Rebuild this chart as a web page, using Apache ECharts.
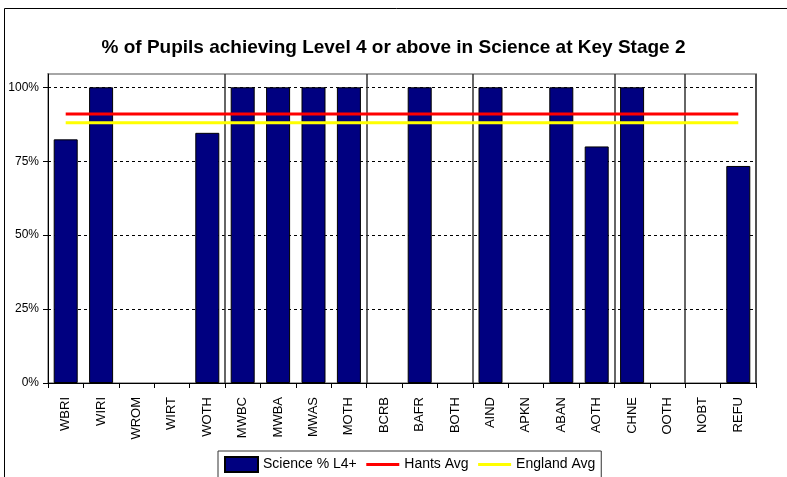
<!DOCTYPE html>
<html>
<head>
<meta charset="utf-8">
<script src="https://cdn.jsdelivr.net/npm/echarts@6/dist/echarts.min.js"></script>
<style>
  html, body { margin: 0; padding: 0; background: #fff; }
  #main { width: 787px; height: 477px; }
</style>
</head>
<body>
<div id="main"></div>
<script>
var categories = ['WBRI', 'WIRI', 'WROM', 'WIRT', 'WOTH', 'MWBC', 'MWBA', 'MWAS', 'MOTH', 'BCRB',
  'BAFR', 'BOTH', 'AIND', 'APKN', 'ABAN', 'AOTH', 'CHNE', 'OOTH', 'NOBT', 'REFU'];
var sciencePct = [82.4, 100, 0, 0, 84.6, 100, 100, 100, 100, 0,
  100, 0, 100, 0, 100, 80, 100, 0, 0, 73.4];
var hantsAvg = [91, 91, 91, 91, 91, 91, 91, 91, 91, 91,
  91, 91, 91, 91, 91, 91, 91, 91, 91, 91];
var englandAvg = [88, 88, 88, 88, 88, 88, 88, 88, 88, 88,
  88, 88, 88, 88, 88, 88, 88, 88, 88, 88];
// category index where a new ethnic group block starts
var groupStarts = [5, 9, 12, 16, 18];

var chartDom = document.getElementById('main');
var myChart = echarts.init(chartDom);
var font = 'Liberation Sans, Arial, sans-serif';

// zero bars have no visible outline in the original
var barData = sciencePct.map(function (v) {
  return v === 0 ? { value: v, itemStyle: { borderWidth: 0 } } : v;
});

var option = {
  animation: false,
  backgroundColor: '#fff',
  textStyle: { fontFamily: font },
  title: {
    text: '% of Pupils achieving Level 4 or above in Science at Key Stage 2',
    left: 'center',
    top: 33,
    textStyle: { fontFamily: font, fontSize: 19, fontWeight: 'bold', color: '#000' }
  },
  graphic: [
    {
      type: 'rect',
      shape: { x: 4.5, y: 8.5, width: 900, height: 600 },
      style: { fill: 'none', stroke: '#000', lineWidth: 1 },
      silent: true
    }
  ],
  legend: {
    left: 218,
    top: 451,
    padding: [5, 6, 12, 6],
    borderColor: '#333',
    borderWidth: 1,
    itemWidth: 33,
    itemHeight: 15,
    itemGap: 8,
    textStyle: { fontFamily: font, fontSize: 14, color: '#000' },
    data: [
      { name: 'Science % L4+', icon: 'rect' },
      { name: 'Hants Avg', itemStyle: { color: 'transparent', borderWidth: 0 }, lineStyle: { width: 3 } },
      { name: 'England Avg', itemStyle: { color: 'transparent', borderWidth: 0 }, lineStyle: { width: 3 } }
    ]
  },
  grid: {
    left: 48,
    right: 31,
    top: 74,
    bottom: 94,
    show: true,
    borderColor: '#a6a6a6',
    borderWidth: 2
  },
  xAxis: {
    type: 'category',
    data: categories,
    boundaryGap: true,
    axisLine: { lineStyle: { color: '#000', width: 1 } },
    axisTick: { show: true, length: 5, lineStyle: { color: '#000' } },
    axisLabel: { rotate: 90, margin: 14, fontSize: 13, color: '#000', fontFamily: font },
    splitLine: {
      show: true,
      interval: function (index) { return groupStarts.indexOf(index) >= 0; },
      lineStyle: { color: '#333', width: 1.5, type: 'solid' }
    }
  },
  yAxis: {
    type: 'value',
    min: 0,
    max: 104.5,
    interval: 25,
    axisLine: { show: true, lineStyle: { color: '#000', width: 1 } },
    axisTick: { show: true, length: 5, lineStyle: { color: '#000' } },
    axisLabel: {
      margin: 9,
      fontSize: 12,
      color: '#000',
      fontFamily: font,
      showMaxLabel: false,
      formatter: function (v) { return v % 25 === 0 ? v + '%' : ''; }
    },
    splitLine: {
      show: true,
      showMaxLine: false,
      lineStyle: { color: '#000', type: [3, 3], width: 1 }
    }
  },
  series: [
    {
      name: 'Science % L4+',
      type: 'bar',
      data: barData,
      barWidth: 24,
      itemStyle: { color: '#000080', borderColor: '#000', borderWidth: 1 }
    },
    {
      name: 'Hants Avg',
      type: 'line',
      data: hantsAvg,
      symbol: 'none',
      lineStyle: { color: '#ff0000', width: 3 },
      itemStyle: { color: '#ff0000' }
    },
    {
      name: 'England Avg',
      type: 'line',
      data: englandAvg,
      symbol: 'none',
      lineStyle: { color: '#ffff00', width: 3 },
      itemStyle: { color: '#ffff00' }
    }
  ]
};

option && myChart.setOption(option);
</script>
</body>
</html>
